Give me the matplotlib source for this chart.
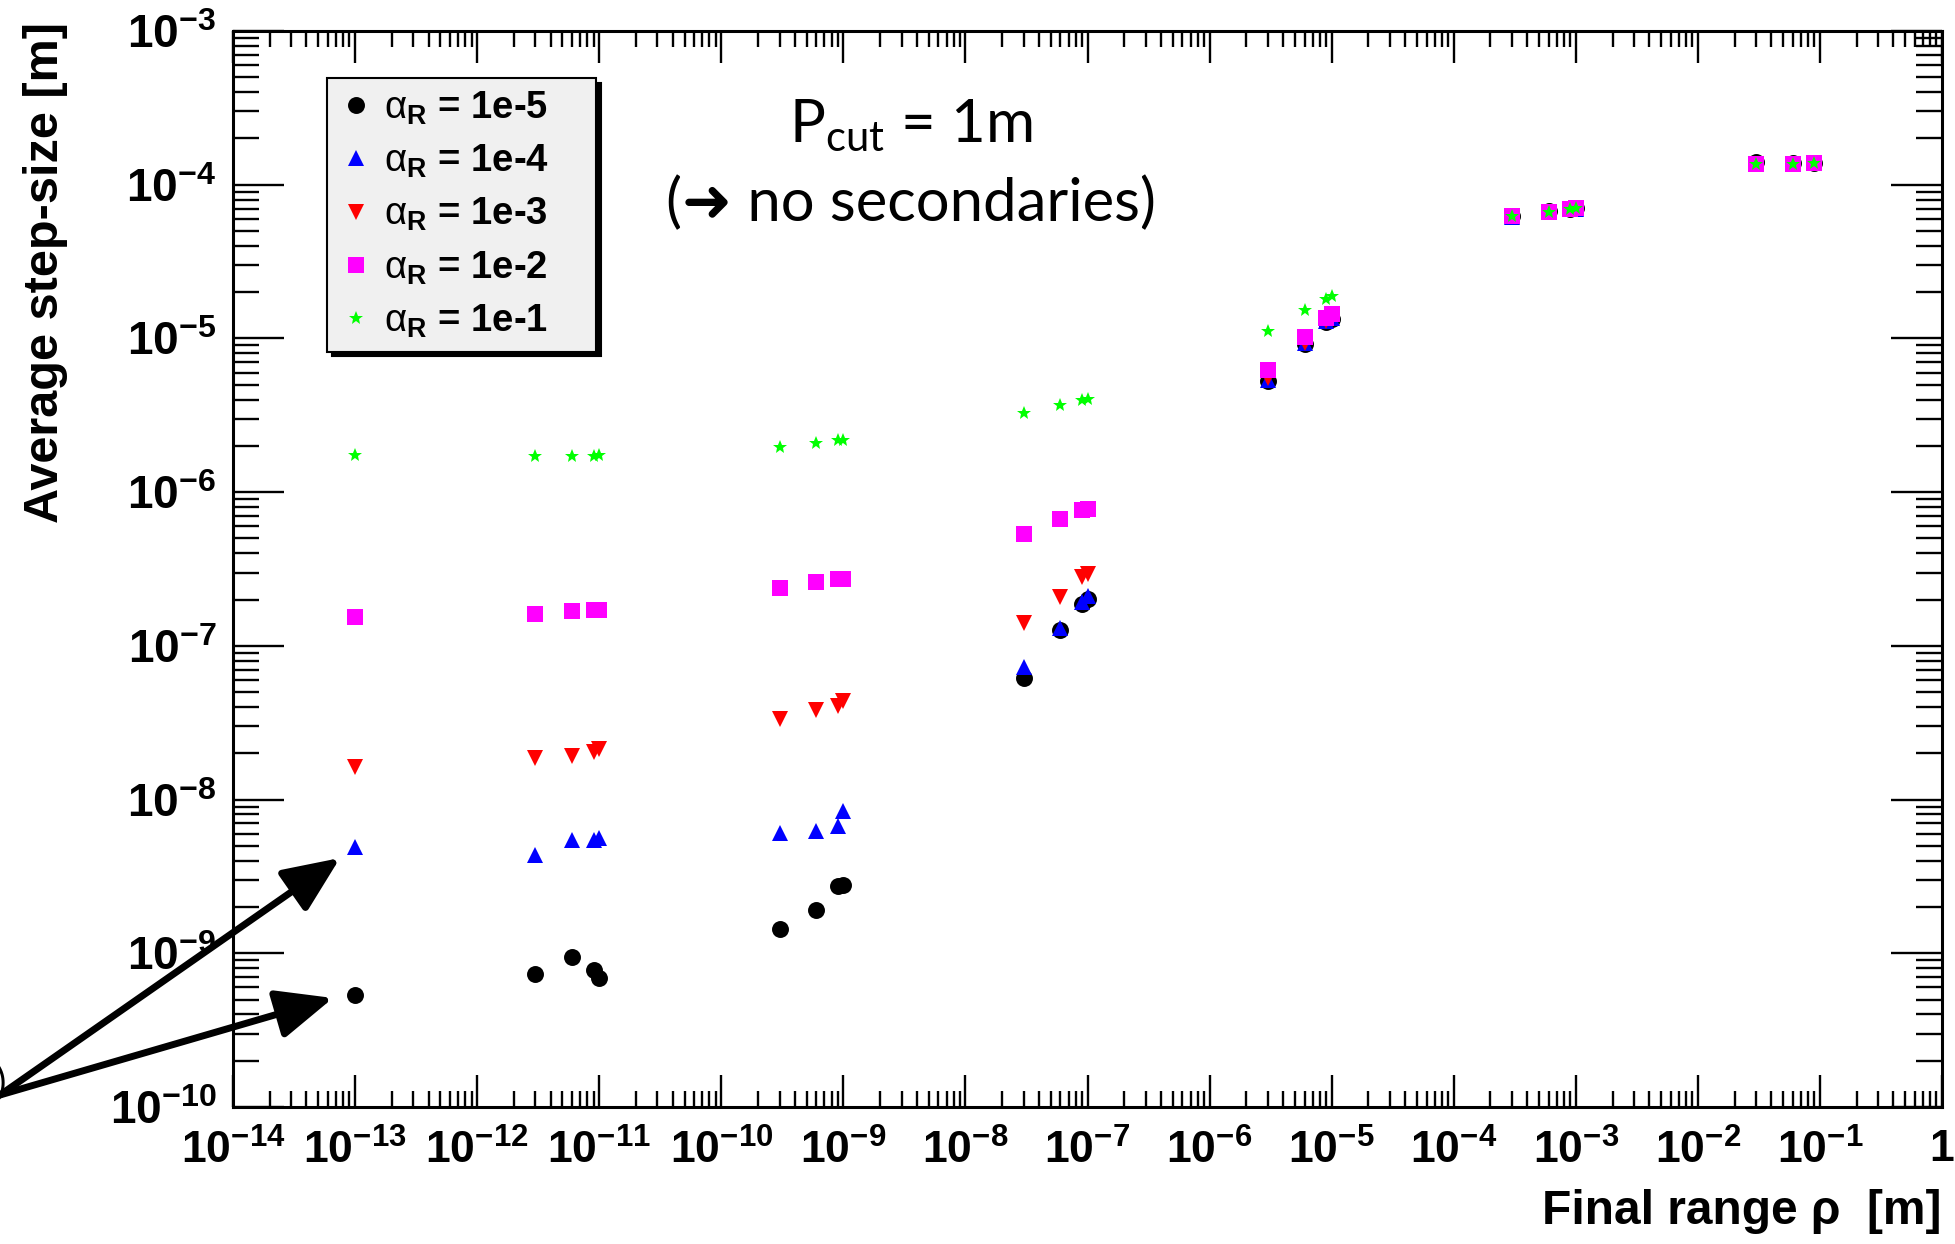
import matplotlib
matplotlib.use("Agg")
import matplotlib.pyplot as plt
from matplotlib import font_manager
from matplotlib.ticker import FixedLocator, FuncFormatter, NullFormatter
from matplotlib.patches import FancyArrowPatch
import numpy as np

# ---------------- data ----------------
final_range = [1e-13,
               3e-12, 6e-12, 9e-12, 1e-11,
               3e-10, 6e-10, 9e-10, 1e-9,
               3e-8, 6e-8, 9e-8, 1e-7,
               3e-6, 6e-6, 9e-6, 1e-5,
               3e-4, 6e-4, 9e-4, 1e-3,
               3e-2, 6e-2, 9e-2]

step_a1e5 = [5.33e-10,
             7.3e-10, 9.5e-10, 7.8e-10, 6.9e-10,
             1.43e-9, 1.91e-9, 2.72e-9, 2.79e-9,
             6.22e-8, 1.27e-7, 1.87e-7, 2.03e-7,
             5.3e-6, 9.2e-6, 1.28e-5, 1.33e-5,
             6.3e-5, 6.7e-5, 7.0e-5, 7.1e-5,
             1.40e-4, 1.38e-4, 1.39e-4]

step_a1e4 = [4.9e-9,
             4.37e-9, 5.47e-9, 5.47e-9, 5.6e-9,
             6.04e-9, 6.2e-9, 6.75e-9, 8.47e-9,
             7.26e-8, 1.30e-7, 1.94e-7, 2.11e-7,
             5.4e-6, 9.3e-6, 1.29e-5, 1.35e-5,
             6.2e-5, 6.6e-5, 6.9e-5, 7.0e-5,
             1.36e-4, 1.36e-4, 1.38e-4]

step_a1e3 = [1.63e-8,
             1.86e-8, 1.93e-8, 2.05e-8, 2.14e-8,
             3.33e-8, 3.83e-8, 4.07e-8, 4.35e-8,
             1.41e-7, 2.07e-7, 2.80e-7, 2.94e-7,
             5.5e-6, 9.4e-6, 1.30e-5, 1.36e-5,
             6.25e-5, 6.65e-5, 6.95e-5, 7.05e-5,
             1.37e-4, 1.37e-4, 1.39e-4]

step_a1e2 = [1.55e-7,
             1.62e-7, 1.69e-7, 1.71e-7, 1.72e-7,
             2.39e-7, 2.59e-7, 2.72e-7, 2.74e-7,
             5.33e-7, 6.66e-7, 7.67e-7, 7.82e-7,
             6.25e-6, 1.02e-5, 1.35e-5, 1.45e-5,
             6.28e-5, 6.67e-5, 6.97e-5, 7.07e-5,
             1.37e-4, 1.37e-4, 1.39e-4]

step_a1e1 = [1.75e-6,
             1.72e-6, 1.73e-6, 1.73e-6, 1.74e-6,
             1.98e-6, 2.08e-6, 2.17e-6, 2.19e-6,
             3.27e-6, 3.68e-6, 3.99e-6, 4.02e-6,
             1.11e-5, 1.52e-5, 1.81e-5, 1.89e-5,
             6.28e-5, 6.67e-5, 6.97e-5, 7.07e-5,
             1.37e-4, 1.37e-4, 1.39e-4]

series_labels = ["1e-5", "1e-4", "1e-3", "1e-2", "1e-1"]
x_major_exp = list(range(-14, 1))
y_major_exp = list(range(-10, -2))

# ---------------- style ----------------
installed = {f.name for f in font_manager.fontManager.ttflist}
has_narrow = "Liberation Sans Narrow" in installed

plt.rcParams["mathtext.fontset"] = "custom"
plt.rcParams["mathtext.rm"] = "Liberation Sans"
plt.rcParams["mathtext.bf"] = "Liberation Sans:bold"
plt.rcParams["mathtext.it"] = "Liberation Sans:italic"
plt.rcParams["mathtext.sf"] = ("Liberation Sans Narrow:bold" if has_narrow
                               else "Liberation Sans:bold")
plt.rcParams["font.family"] = ["Liberation Sans", "DejaVu Sans"]

W, H = 1955, 1244
fig = plt.figure(figsize=(W / 100, H / 100), dpi=100)
L, R, T, B = 233, 1942, 31, 1107
ax = fig.add_axes([L / W, 1 - B / H, (R - L) / W, (B - T) / H])
ax.set_xscale("log")
ax.set_yscale("log")
ax.set_xlim(1e-14, 1)
ax.set_ylim(1e-10, 1e-3)

styles = [
    (step_a1e5, "o", "#000000", 12.2),
    (step_a1e4, "^", "#0000ff", 12.0),
    (step_a1e3, "v", "#ff0000", 12.0),
    (step_a1e2, "s", "#ff00ff", 11.5),
    (step_a1e1, "*", "#00ff00", 10.6),
]
for z, ((vals, mk, col, ms), lab) in enumerate(zip(styles, series_labels)):
    ax.plot(final_range, vals, ls="none", marker=mk, color=col, ms=ms,
            mew=0, zorder=3 + z,
            label=r"$\mathrm{\alpha}_{\mathbf{R}}$ = " + lab)

# ticks
ax.xaxis.set_major_locator(FixedLocator([10.0 ** e for e in x_major_exp]))
ax.xaxis.set_minor_locator(FixedLocator(
    [m * 10.0 ** e for e in x_major_exp[:-1] for m in range(2, 10)]))
ax.yaxis.set_major_locator(FixedLocator([10.0 ** e for e in y_major_exp]))
ax.yaxis.set_minor_locator(FixedLocator(
    [m * 10.0 ** e for e in y_major_exp[:-1] for m in range(2, 10)]))


def fmt_x(v, pos):
    e = int(round(np.log10(v)))
    if e == 0:
        return r"$\mathsf{1}$"
    return r"$\mathsf{10^{%d}}$" % e


def fmt_y(v, pos):
    e = int(round(np.log10(v)))
    return r"$\mathbf{10^{%d}}$" % e


ax.xaxis.set_major_formatter(FuncFormatter(fmt_x))
ax.yaxis.set_major_formatter(FuncFormatter(fmt_y))
ax.xaxis.set_minor_formatter(NullFormatter())
ax.yaxis.set_minor_formatter(NullFormatter())

ax.tick_params(axis="x", which="major", direction="in", length=23, width=1.7,
               top=True, labelsize=(37.5 if has_narrow else 32), pad=16)
ax.tick_params(axis="x", which="minor", direction="in", length=11.5,
               width=1.7, top=True)
ax.tick_params(axis="y", which="major", direction="in", length=37, width=1.7,
               right=True, labelsize=33, pad=12)
ax.tick_params(axis="y", which="minor", direction="in", length=18.7,
               width=1.7, right=True)
for sp in ax.spines.values():
    sp.set_linewidth(2.2)

# legend
leg = ax.legend(loc="upper left",
                bbox_to_anchor=(0.055, 0.5, (596 - 327) / (R - L), 0.4563),
                mode="expand", borderaxespad=0,
                prop={"family": "Liberation Sans", "weight": "bold",
                      "size": 27.5},
                numpoints=1, handlelength=0.9, handletextpad=0.3,
                borderpad=0.3, labelspacing=0.42,
                frameon=True, fancybox=False, framealpha=1,
                facecolor="#f0f0f0", edgecolor="black",
                shadow={"ox": 3.5, "oy": -3.5, "color": "black", "alpha": 1})
leg.get_frame().set_linewidth(1.5)

# axis titles
fig.text(46 / W, 1 - 22 / H, "Average step-size [m]", rotation=90,
         ha="center", va="top", fontsize=35, fontweight="bold",
         family="Liberation Sans")
fig.text(R / W, 1 - 1212 / H, "Final range ρ  [m]", ha="right",
         va="center", fontsize=34.5, fontweight="bold",
         family="Liberation Sans")

# annotation
fig.text(911 / W, 1 - 143 / H, r"P$_{\mathregular{cut}}$ = 1m",
         ha="center", va="baseline", fontsize=43, family="Lato")
fig.text(911 / W, 1 - 221 / H, "(➜ no secondaries)", ha="center",
         va="baseline", fontsize=43, family=["Lato", "DejaVu Sans"])

# arrows pointing at the first points
for tip in [(340, 858), (333, 998)]:
    arr = FancyArrowPatch((0 / W, 1 - 1095 / H), (tip[0] / W, 1 - tip[1] / H),
                          transform=fig.transFigure,
                          arrowstyle="-|>,head_length=1.15,head_width=0.5",
                          mutation_scale=30, lw=5, color="black",
                          shrinkA=0, shrinkB=0, zorder=20)
    fig.add_artist(arr)

# cropped parenthesis at the left edge
fig.text(6 / W, 1 - 1083 / H, ")", ha="right", va="center", fontsize=28,
         family="Lato")

fig.savefig("out.png", dpi=100)
